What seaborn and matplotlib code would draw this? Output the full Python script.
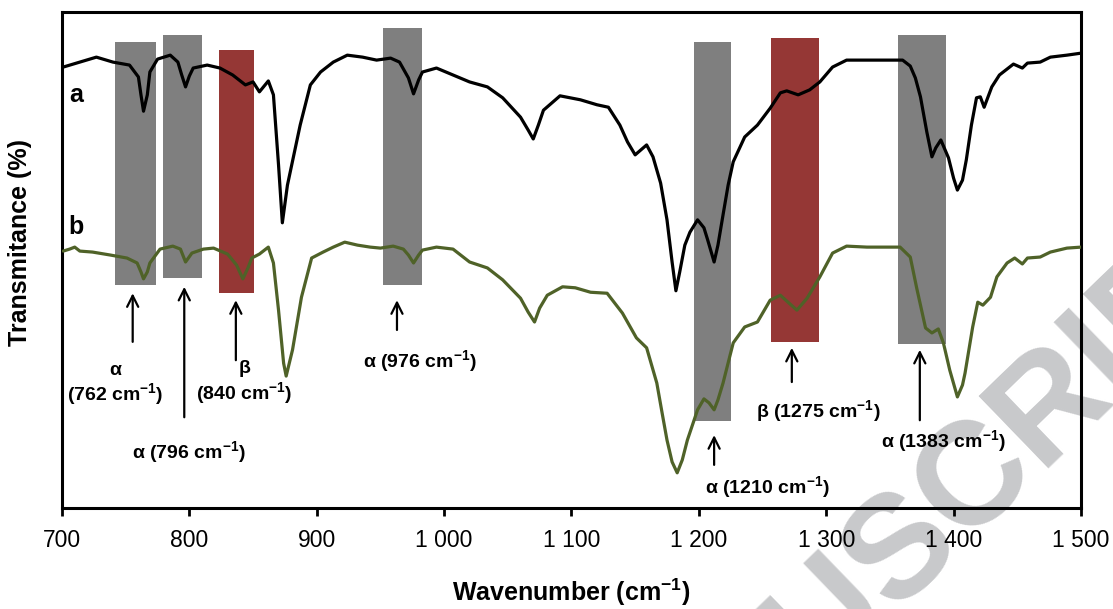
import matplotlib
matplotlib.use("Agg")
import matplotlib.pyplot as plt
import seaborn as sns
import pandas as pd
from matplotlib.patches import Rectangle

# spectrum a (black) - wavenumber (cm-1) / transmittance (arb. %)
wn_a = [701, 714, 727, 740, 753, 760, 762, 764, 767, 769, 775, 785, 791, 794, 797, 800,
        803, 814, 824, 834, 844, 850, 855, 862, 866, 870, 873, 877, 887, 895, 903, 913,
        924, 936, 947, 958, 965, 972, 976, 980, 983, 994, 1007, 1020, 1034, 1046, 1060,
        1066, 1070, 1074, 1078, 1091, 1107, 1120, 1129, 1138, 1144, 1150, 1159, 1164,
        1170, 1175, 1179, 1182, 1185, 1189, 1193, 1199, 1204, 1207, 1212, 1215, 1219,
        1223, 1227, 1236, 1246, 1256, 1264, 1269, 1278, 1287, 1295, 1305, 1316, 1332,
        1348, 1360, 1366, 1370, 1374, 1379, 1383, 1386, 1390, 1396, 1400, 1403, 1407,
        1410, 1414, 1418, 1421, 1424, 1430, 1436, 1447, 1454, 1458, 1468, 1476, 1489, 1500]
t_a = [88.9, 89.9, 90.9, 89.9, 89.3, 86.9, 83.3, 80.0, 83.3, 87.9, 90.5, 91.3, 89.9, 87.3,
       84.9, 87.1, 88.7, 89.3, 88.7, 87.3, 85.3, 85.9, 83.9, 86.1, 83.3, 69.2, 57.5, 65.1,
       77.2, 85.3, 87.9, 89.9, 91.3, 90.9, 90.3, 90.7, 89.9, 86.7, 83.5, 86.3, 87.9, 88.7,
       87.3, 85.9, 84.9, 82.7, 78.8, 76.2, 74.4, 77.2, 80.2, 83.1, 82.3, 81.3, 80.8, 77.2,
       73.8, 71.2, 73.2, 70.8, 65.5, 58.1, 49.6, 43.8, 47.6, 53.0, 55.6, 58.1, 56.5, 54.0,
       49.6, 53.0, 59.1, 65.1, 69.8, 74.8, 77.2, 80.6, 83.7, 84.1, 83.3, 84.3, 85.9, 88.9,
       90.3, 90.3, 90.3, 90.3, 89.1, 86.7, 82.9, 75.8, 70.8, 72.6, 74.2, 70.6, 66.5, 64.1,
       66.1, 70.2, 77.2, 82.7, 82.9, 80.8, 84.9, 87.3, 89.5, 88.7, 89.7, 89.9, 90.9, 91.3, 91.7]

# spectrum b (green)
wn_b = [701, 706, 710, 714, 724, 738, 751, 759, 762, 764, 767, 769, 777, 787, 793, 797,
        802, 811, 819, 830, 837, 842, 846, 849, 855, 862, 866, 870, 874, 876, 881, 888,
        896, 905, 913, 922, 932, 942, 950, 960, 968, 972, 976, 980, 983, 994, 1007, 1020,
        1034, 1046, 1060, 1066, 1071, 1075, 1081, 1093, 1103, 1115, 1128, 1140, 1151,
        1159, 1167, 1171, 1175, 1179, 1183, 1187, 1191, 1199, 1204, 1208, 1212, 1215,
        1219, 1227, 1236, 1246, 1256, 1264, 1270, 1277, 1285, 1295, 1305, 1316, 1332,
        1348, 1358, 1366, 1371, 1378, 1383, 1388, 1392, 1397, 1403, 1407, 1409, 1415,
        1419, 1423, 1429, 1434, 1442, 1448, 1454, 1458, 1468, 1476, 1489, 1500]
t_b = [51.8, 52.2, 52.6, 51.8, 51.6, 51.0, 50.4, 49.4, 47.6, 46.2, 47.6, 49.4, 52.2, 52.8,
       52.2, 49.6, 51.4, 52.2, 52.4, 51.2, 49.0, 46.2, 48.4, 50.4, 51.2, 52.6, 49.4, 39.9,
       29.2, 26.6, 31.9, 42.5, 50.4, 51.6, 52.6, 53.6, 53.0, 52.6, 52.4, 52.8, 52.2, 51.0,
       49.4, 51.0, 52.0, 52.6, 52.2, 49.6, 48.4, 46.0, 42.3, 39.5, 37.5, 40.3, 42.9, 44.6,
       44.4, 43.5, 43.3, 39.3, 34.3, 32.3, 25.2, 19.4, 13.7, 9.3, 7.1, 9.7, 13.7, 19.8,
       22.0, 21.2, 19.8, 21.8, 25.2, 33.3, 36.5, 37.5, 41.9, 42.9, 41.5, 39.9, 42.3, 46.6,
       51.4, 52.8, 52.6, 52.6, 52.6, 50.6, 44.4, 36.3, 35.3, 36.1, 33.3, 27.8, 22.4, 24.8,
       27.2, 36.5, 41.5, 40.9, 42.5, 46.6, 49.4, 50.4, 49.2, 50.4, 50.6, 51.6, 52.4, 52.6]

# highlighted bands (phase, wavenumber range, vertical extent)
band_phase = ["α", "α", "β", "α", "α", "β", "α"]
band_lo = [742, 779, 823, 952, 1196, 1257, 1356]
band_hi = [774, 810, 851, 983, 1225, 1294, 1394]
band_top = [94.0, 95.4, 92.3, 96.8, 94.0, 94.8, 95.4]
band_bot = [45.0, 46.4, 43.3, 45.0, 17.5, 33.5, 33.0]

# peak assignments
peak_pos = [762, 796, 840, 976, 1210, 1275, 1383]
peak_phase = ["α", "α", "β", "α", "α", "β", "α"]

tick_vals = [700, 800, 900, 1000, 1100, 1200, 1300, 1400, 1500]
tick_labels = ["700", "800", "900", "1 000", "1 100", "1 200", "1 300", "1 400", "1 500"]

sns.set_theme(style="white")
plt.rcParams['font.family'] = ['Liberation Sans', 'DejaVu Sans']
plt.rcParams['mathtext.fontset'] = 'custom'
plt.rcParams['mathtext.rm'] = 'Liberation Sans'
plt.rcParams['mathtext.bf'] = 'Liberation Sans:bold'
plt.rcParams['mathtext.default'] = 'bf'
plt.rcParams['text.color'] = 'black'
plt.rcParams['axes.labelcolor'] = 'black'
plt.rcParams['xtick.color'] = 'black'

fig = plt.figure(figsize=(11.13, 6.09), dpi=100)
ax = fig.add_axes([0.0557, 0.1658, 0.9155, 0.8145])
ax.patch.set_facecolor('none')

# watermark behind everything
fig.text(0.810, 0.102, "MANUSCRIPT", rotation=44, rotation_mode='anchor',
         ha='center', va='center', fontsize=105, weight='bold', color='#c8c9cb', zorder=-5)

band_colors = {"α": "#7f7f7f", "β": "#953735"}
for lo, hi, top, bot, ph in zip(band_lo, band_hi, band_top, band_bot, band_phase):
    ax.add_patch(Rectangle((lo, bot), hi - lo, top - bot, facecolor=band_colors[ph],
                           edgecolor='none', zorder=1))

df_a = pd.DataFrame({"wn": wn_a, "T": t_a})
df_b = pd.DataFrame({"wn": wn_b, "T": t_b})
sns.lineplot(data=df_a, x="wn", y="T", ax=ax, color="black", lw=2.3, estimator=None, zorder=3)
sns.lineplot(data=df_b, x="wn", y="T", ax=ax, color="#4f6228", lw=2.3, estimator=None, zorder=3)

ax.text(711, 81.8, "a", fontsize=18, weight='bold', ha='center', va='baseline')
ax.text(711, 55.2, "b", fontsize=18, weight='bold', ha='center', va='baseline')

# arrows and peak labels (layout)
arrow_x = [755.5, 796, 836.5, 963, 1212, 1273, 1373.5]
arrow_tip = [43.3, 44.6, 41.9, 41.9, 14.7, 32.3, 31.9]
arrow_tail = [33.5, 18.3, 29.8, 35.9, 8.7, 25.4, 17.7]
label_x = [742, 800, 843, 981, 1254, 1294, 1392]
label_y = [24.9, 11.3, 25.2, 29.6, 4.2, 19.5, 13.5]
two_line = [True, False, True, False, False, False, False]

for i, (p, ph) in enumerate(zip(peak_pos, peak_phase)):
    ax.annotate("", xy=(arrow_x[i], arrow_tip[i]), xytext=(arrow_x[i], arrow_tail[i]),
                arrowprops=dict(arrowstyle="->", color="black", lw=1.6,
                                shrinkA=0, shrinkB=0, mutation_scale=20), zorder=4)
    sep = "\n" if two_line[i] else " "
    ax.text(label_x[i], label_y[i], f"{ph}{sep}({p} cm$^{{-1}}$)", fontsize=14,
            weight='bold', ha='center', va='center', linespacing=1.15, zorder=4)

ax.set_xlim(700, 1500)
ax.set_ylim(0, 100)
ax.set_xticks(tick_vals)
ax.set_xticklabels(tick_labels, fontsize=16.5)
ax.set_yticks([])
ax.tick_params(axis='x', direction='out', length=6, width=2, pad=9, bottom=True, color='black')
for s in ax.spines.values():
    s.set_color('black')
    s.set_linewidth(2.2)

ax.set_xlabel("Wavenumber (cm$^{-1}$)", fontsize=18, weight='bold')
ax.set_ylabel("Transmitance (%)", fontsize=18, weight='bold')
ax.xaxis.set_label_coords(0.5, -0.138)
ax.yaxis.set_label_coords(-0.029, 0.536)

fig.savefig("out.png", dpi=100)
